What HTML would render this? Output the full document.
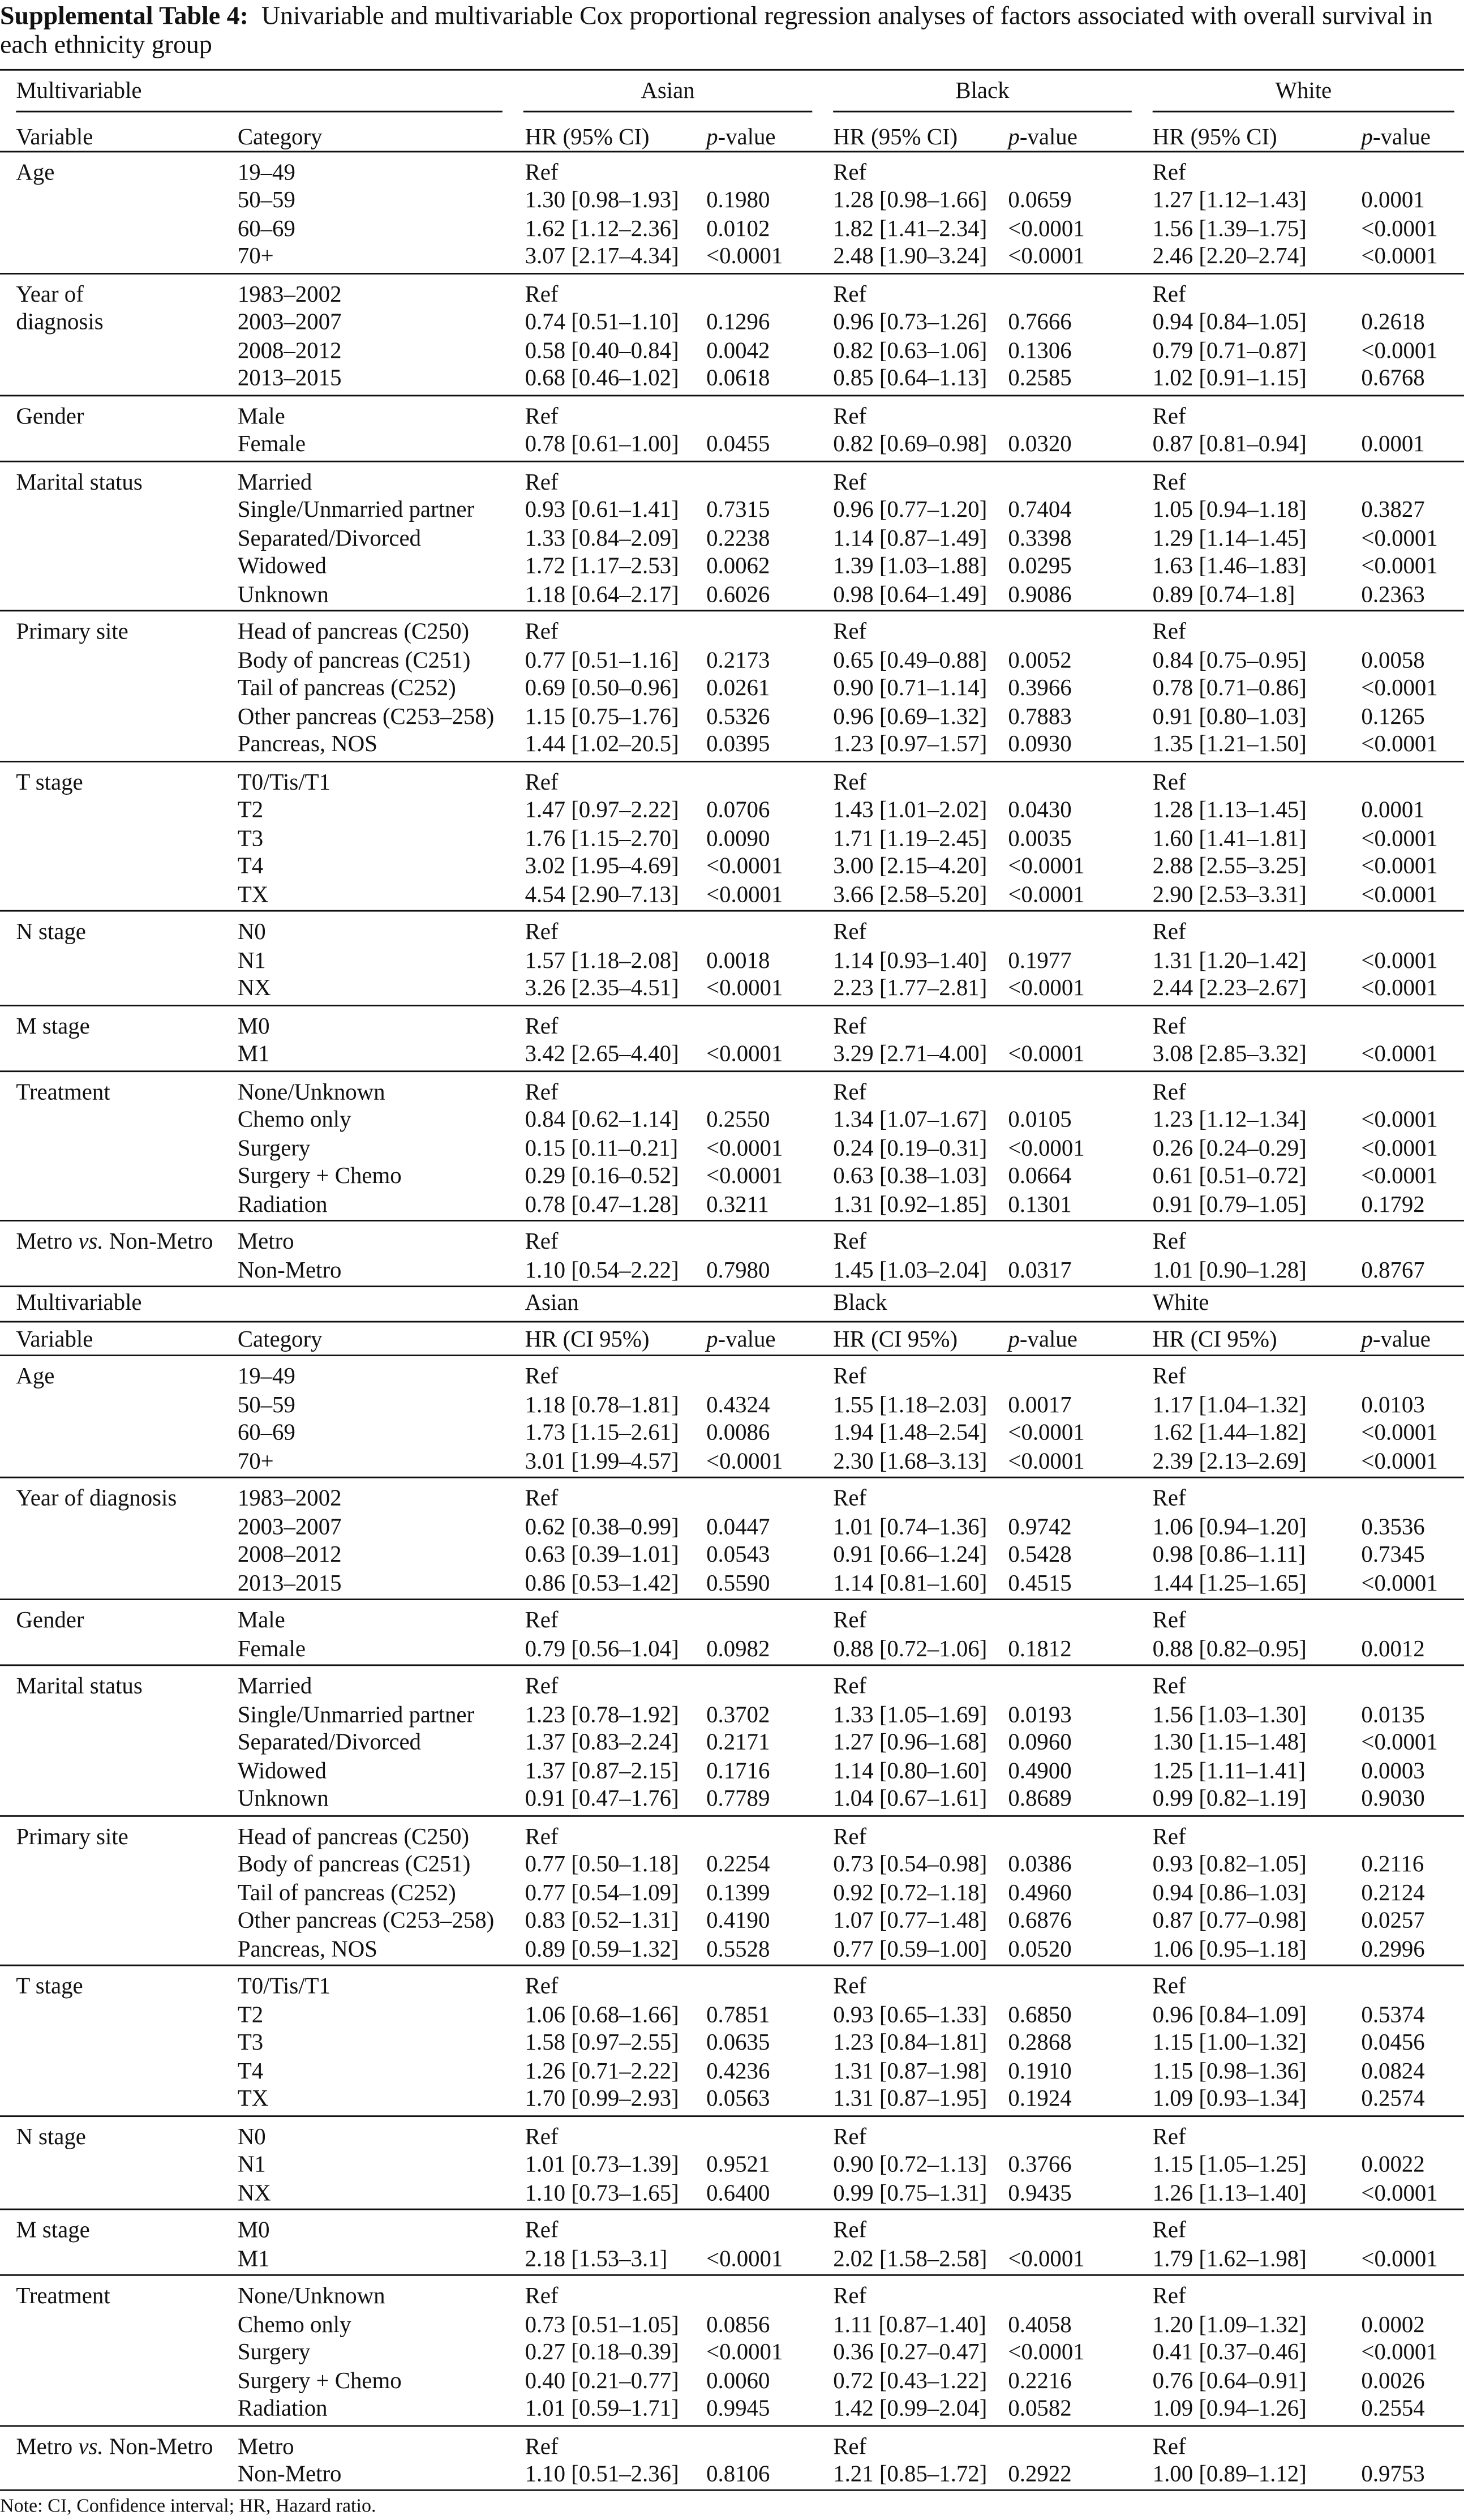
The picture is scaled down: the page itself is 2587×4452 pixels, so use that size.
<!DOCTYPE html>
<html><head><meta charset="utf-8">
<style>
html,body{margin:0;padding:0;background:#fff;}
body{width:2587px;height:4446px;overflow:hidden;}
#page{position:absolute;left:0;top:0;width:912px;height:1568px;transform-origin:0 0;transform:scale(2.8366,2.8355);font-family:"Liberation Serif",serif;color:#111;}
.t{position:absolute;white-space:nowrap;font-size:14.4px;line-height:17.5px;height:17.5px;}
.title{position:absolute;left:0;white-space:nowrap;font-size:16.2px;line-height:18px;}
.ln{position:absolute;height:1.1px;background:#111;}
.thick{height:1.4px;}
i{font-style:italic;}
</style></head>
<body>
<div id="page">
<div class="title" style="top:0.5px"><b>Supplemental Table 4:</b>&nbsp; Univariable and multivariable Cox proportional regression analyses of factors associated with overall survival in</div>
<div class="title" style="top:18.5px">each ethnicity group</div>
</div>
<script>
const groupsTop = [
 ["Age",["19–49|Ref||Ref||Ref|","50–59|1.30 [0.98–1.93]|0.1980|1.28 [0.98–1.66]|0.0659|1.27 [1.12–1.43]|0.0001","60–69|1.62 [1.12–2.36]|0.0102|1.82 [1.41–2.34]|<0.0001|1.56 [1.39–1.75]|<0.0001","70+|3.07 [2.17–4.34]|<0.0001|2.48 [1.90–3.24]|<0.0001|2.46 [2.20–2.74]|<0.0001"]],
 ["Year of<br>diagnosis",["1983–2002|Ref||Ref||Ref|","2003–2007|0.74 [0.51–1.10]|0.1296|0.96 [0.73–1.26]|0.7666|0.94 [0.84–1.05]|0.2618","2008–2012|0.58 [0.40–0.84]|0.0042|0.82 [0.63–1.06]|0.1306|0.79 [0.71–0.87]|<0.0001","2013–2015|0.68 [0.46–1.02]|0.0618|0.85 [0.64–1.13]|0.2585|1.02 [0.91–1.15]|0.6768"]],
 ["Gender",["Male|Ref||Ref||Ref|","Female|0.78 [0.61–1.00]|0.0455|0.82 [0.69–0.98]|0.0320|0.87 [0.81–0.94]|0.0001"]],
 ["Marital status",["Married|Ref||Ref||Ref|","Single/Unmarried partner|0.93 [0.61–1.41]|0.7315|0.96 [0.77–1.20]|0.7404|1.05 [0.94–1.18]|0.3827","Separated/Divorced|1.33 [0.84–2.09]|0.2238|1.14 [0.87–1.49]|0.3398|1.29 [1.14–1.45]|<0.0001","Widowed|1.72 [1.17–2.53]|0.0062|1.39 [1.03–1.88]|0.0295|1.63 [1.46–1.83]|<0.0001","Unknown|1.18 [0.64–2.17]|0.6026|0.98 [0.64–1.49]|0.9086|0.89 [0.74–1.8]|0.2363"]],
 ["Primary site",["Head of pancreas (C250)|Ref||Ref||Ref|","Body of pancreas (C251)|0.77 [0.51–1.16]|0.2173|0.65 [0.49–0.88]|0.0052|0.84 [0.75–0.95]|0.0058","Tail of pancreas (C252)|0.69 [0.50–0.96]|0.0261|0.90 [0.71–1.14]|0.3966|0.78 [0.71–0.86]|<0.0001","Other pancreas (C253–258)|1.15 [0.75–1.76]|0.5326|0.96 [0.69–1.32]|0.7883|0.91 [0.80–1.03]|0.1265","Pancreas, NOS|1.44 [1.02–20.5]|0.0395|1.23 [0.97–1.57]|0.0930|1.35 [1.21–1.50]|<0.0001"]],
 ["T stage",["T0/Tis/T1|Ref||Ref||Ref|","T2|1.47 [0.97–2.22]|0.0706|1.43 [1.01–2.02]|0.0430|1.28 [1.13–1.45]|0.0001","T3|1.76 [1.15–2.70]|0.0090|1.71 [1.19–2.45]|0.0035|1.60 [1.41–1.81]|<0.0001","T4|3.02 [1.95–4.69]|<0.0001|3.00 [2.15–4.20]|<0.0001|2.88 [2.55–3.25]|<0.0001","TX|4.54 [2.90–7.13]|<0.0001|3.66 [2.58–5.20]|<0.0001|2.90 [2.53–3.31]|<0.0001"]],
 ["N stage",["N0|Ref||Ref||Ref|","N1|1.57 [1.18–2.08]|0.0018|1.14 [0.93–1.40]|0.1977|1.31 [1.20–1.42]|<0.0001","NX|3.26 [2.35–4.51]|<0.0001|2.23 [1.77–2.81]|<0.0001|2.44 [2.23–2.67]|<0.0001"]],
 ["M stage",["M0|Ref||Ref||Ref|","M1|3.42 [2.65–4.40]|<0.0001|3.29 [2.71–4.00]|<0.0001|3.08 [2.85–3.32]|<0.0001"]],
 ["Treatment",["None/Unknown|Ref||Ref||Ref|","Chemo only|0.84 [0.62–1.14]|0.2550|1.34 [1.07–1.67]|0.0105|1.23 [1.12–1.34]|<0.0001","Surgery|0.15 [0.11–0.21]|<0.0001|0.24 [0.19–0.31]|<0.0001|0.26 [0.24–0.29]|<0.0001","Surgery + Chemo|0.29 [0.16–0.52]|<0.0001|0.63 [0.38–1.03]|0.0664|0.61 [0.51–0.72]|<0.0001","Radiation|0.78 [0.47–1.28]|0.3211|1.31 [0.92–1.85]|0.1301|0.91 [0.79–1.05]|0.1792"]],
 ["Metro <i>vs.</i> Non-Metro",["Metro|Ref||Ref||Ref|","Non-Metro|1.10 [0.54–2.22]|0.7980|1.45 [1.03–2.04]|0.0317|1.01 [0.90–1.28]|0.8767"]]
];
const groupsBottom = [
 ["Age",["19–49|Ref||Ref||Ref|","50–59|1.18 [0.78–1.81]|0.4324|1.55 [1.18–2.03]|0.0017|1.17 [1.04–1.32]|0.0103","60–69|1.73 [1.15–2.61]|0.0086|1.94 [1.48–2.54]|<0.0001|1.62 [1.44–1.82]|<0.0001","70+|3.01 [1.99–4.57]|<0.0001|2.30 [1.68–3.13]|<0.0001|2.39 [2.13–2.69]|<0.0001"]],
 ["Year of diagnosis",["1983–2002|Ref||Ref||Ref|","2003–2007|0.62 [0.38–0.99]|0.0447|1.01 [0.74–1.36]|0.9742|1.06 [0.94–1.20]|0.3536","2008–2012|0.63 [0.39–1.01]|0.0543|0.91 [0.66–1.24]|0.5428|0.98 [0.86–1.11]|0.7345","2013–2015|0.86 [0.53–1.42]|0.5590|1.14 [0.81–1.60]|0.4515|1.44 [1.25–1.65]|<0.0001"]],
 ["Gender",["Male|Ref||Ref||Ref|","Female|0.79 [0.56–1.04]|0.0982|0.88 [0.72–1.06]|0.1812|0.88 [0.82–0.95]|0.0012"]],
 ["Marital status",["Married|Ref||Ref||Ref|","Single/Unmarried partner|1.23 [0.78–1.92]|0.3702|1.33 [1.05–1.69]|0.0193|1.56 [1.03–1.30]|0.0135","Separated/Divorced|1.37 [0.83–2.24]|0.2171|1.27 [0.96–1.68]|0.0960|1.30 [1.15–1.48]|<0.0001","Widowed|1.37 [0.87–2.15]|0.1716|1.14 [0.80–1.60]|0.4900|1.25 [1.11–1.41]|0.0003","Unknown|0.91 [0.47–1.76]|0.7789|1.04 [0.67–1.61]|0.8689|0.99 [0.82–1.19]|0.9030"]],
 ["Primary site",["Head of pancreas (C250)|Ref||Ref||Ref|","Body of pancreas (C251)|0.77 [0.50–1.18]|0.2254|0.73 [0.54–0.98]|0.0386|0.93 [0.82–1.05]|0.2116","Tail of pancreas (C252)|0.77 [0.54–1.09]|0.1399|0.92 [0.72–1.18]|0.4960|0.94 [0.86–1.03]|0.2124","Other pancreas (C253–258)|0.83 [0.52–1.31]|0.4190|1.07 [0.77–1.48]|0.6876|0.87 [0.77–0.98]|0.0257","Pancreas, NOS|0.89 [0.59–1.32]|0.5528|0.77 [0.59–1.00]|0.0520|1.06 [0.95–1.18]|0.2996"]],
 ["T stage",["T0/Tis/T1|Ref||Ref||Ref|","T2|1.06 [0.68–1.66]|0.7851|0.93 [0.65–1.33]|0.6850|0.96 [0.84–1.09]|0.5374","T3|1.58 [0.97–2.55]|0.0635|1.23 [0.84–1.81]|0.2868|1.15 [1.00–1.32]|0.0456","T4|1.26 [0.71–2.22]|0.4236|1.31 [0.87–1.98]|0.1910|1.15 [0.98–1.36]|0.0824","TX|1.70 [0.99–2.93]|0.0563|1.31 [0.87–1.95]|0.1924|1.09 [0.93–1.34]|0.2574"]],
 ["N stage",["N0|Ref||Ref||Ref|","N1|1.01 [0.73–1.39]|0.9521|0.90 [0.72–1.13]|0.3766|1.15 [1.05–1.25]|0.0022","NX|1.10 [0.73–1.65]|0.6400|0.99 [0.75–1.31]|0.9435|1.26 [1.13–1.40]|<0.0001"]],
 ["M stage",["M0|Ref||Ref||Ref|","M1|2.18 [1.53–3.1]|<0.0001|2.02 [1.58–2.58]|<0.0001|1.79 [1.62–1.98]|<0.0001"]],
 ["Treatment",["None/Unknown|Ref||Ref||Ref|","Chemo only|0.73 [0.51–1.05]|0.0856|1.11 [0.87–1.40]|0.4058|1.20 [1.09–1.32]|0.0002","Surgery|0.27 [0.18–0.39]|<0.0001|0.36 [0.27–0.47]|<0.0001|0.41 [0.37–0.46]|<0.0001","Surgery + Chemo|0.40 [0.21–0.77]|0.0060|0.72 [0.43–1.22]|0.2216|0.76 [0.64–0.91]|0.0026","Radiation|1.01 [0.59–1.71]|0.9945|1.42 [0.99–2.04]|0.0582|1.09 [0.94–1.26]|0.2554"]],
 ["Metro <i>vs.</i> Non-Metro",["Metro|Ref||Ref||Ref|","Non-Metro|1.10 [0.51–2.36]|0.8106|1.21 [0.85–1.72]|0.2922|1.00 [0.89–1.12]|0.9753"]]
];
const colX = [148,327,440,519,628,718,848];
const colNames = ['category','asian-hr','asian-p','black-hr','black-p','white-hr','white-p'];
const page = document.getElementById('page');
const PITCH = 17.5, GAP = 23.5;
function txt(x, cy, html, name, extra){
  const d = document.createElement('div');
  d.className = 't';
  d.style.left = x + 'px';
  d.style.top = (cy - 7.75) + 'px';
  if (extra) d.style.cssText += extra;
  d.innerHTML = html;
  
  
  page.appendChild(d);
  return d;
}
function line(x1, x2, y, name, thick){
  const d = document.createElement('div');
  d.className = 'ln' + (thick ? ' thick' : '');
  d.style.left = x1 + 'px';
  d.style.width = (x2 - x1) + 'px';
  d.style.top = y + 'px';
  
  
  page.appendChild(d);
}
function esc(s){ return s.replace(/</g,'&lt;'); }
function body(groups, startY){
  let y = startY;
  groups.forEach((g, gi) => {
    if (gi > 0) { line(0, 912, y - GAP + PITCH/2 + 1, 'group-separator'); }
    const lbl = txt(10, y, g[0], 'variable-label');
    if (g[0].indexOf('<br>') >= 0) { lbl.style.height = '35px'; }
    g[1].forEach((r, ri) => {
      const cells = r.split('|');
      cells.forEach((c, ci) => {
        if (c) txt(colX[ci], y, esc(c), colNames[ci] + '-cell');
      });
      if (ri < g[1].length - 1) y += PITCH;
    });
    y += GAP;
  });
  return y - GAP;
}
function header(y1, y2, centered, hr){
  txt(10, y1, 'Multivariable', 'multivariable-header');
  if (centered) {
    txt(326, y1, 'Asian', 'asian-header', 'width:180px;text-align:center;');
    txt(519, y1, 'Black', 'black-header', 'width:186px;text-align:center;');
    txt(718, y1, 'White', 'white-header', 'width:188px;text-align:center;');
    line(10, 313, y1 + 12, 'header-underline');
    line(326, 506, y1 + 12, 'header-underline');
    line(519, 705, y1 + 12, 'header-underline');
    line(718, 906, y1 + 12, 'header-underline');
  } else {
    txt(327, y1, 'Asian', 'asian-header');
    txt(519, y1, 'Black', 'black-header');
    txt(718, y1, 'White', 'white-header');
    line(0, 912, y1 + 11, 'header-underline', true);
  }
  txt(10, y2, 'Variable', 'variable-col-header');
  txt(148, y2, 'Category', 'category-col-header');
  [327,519,718].forEach(x => txt(x, y2, hr, 'hr-col-header'));
  [440,628,848].forEach(x => txt(x, y2, '<i>p</i>-value', 'p-col-header'));
  line(0, 912, y2 + 8.5, 'header-rule', true);
}
line(0, 912, 42.5, 'top-rule', true);
header(56.5, 85.5, true, 'HR (95% CI)');
let endTop = body(groupsTop, 107.5);
line(0, 912, endTop + 9, 'table-divider-rule', true);
header(812, 835, false, 'HR (CI 95%)');
let endBot = body(groupsBottom, 858);
line(0, 912, endBot + 9, 'bottom-rule', true);
const note = txt(0, endBot + 18.5, 'Note: CI, Confidence interval; HR, Hazard ratio.', 'table-note', 'font-size:12px;');
</script>
</body></html>
